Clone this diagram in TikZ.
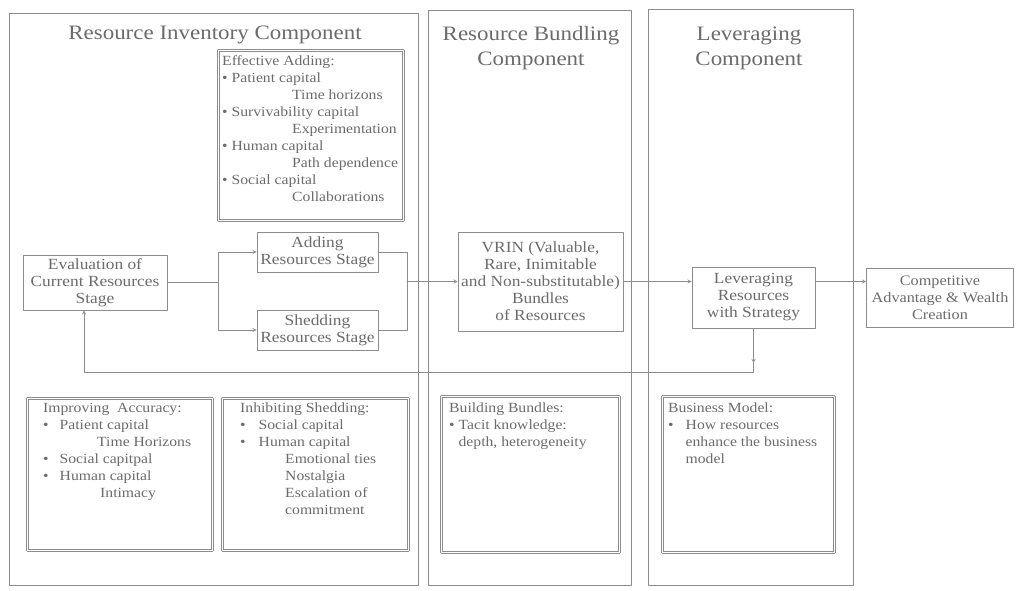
\documentclass[tikz,border=0pt]{standalone}
\usepackage{fontspec}
\setmainfont{Liberation Serif}[FakeStretch=1.12]
\usetikzlibrary{positioning}
\definecolor{ink}{gray}{0.42}
\definecolor{rule}{gray}{0.55}

\begin{document}
\begin{tikzpicture}[x=1pt, y=-1pt, line join=round, line cap=round, >=stealth,
  every node/.style={text=ink},
  frame/.style={draw=rule, line width=0.8pt},
  ttl/.style={font=\fontsize{20.5}{25}\selectfont, align=center},
  stage/.style={draw=rule, line width=0.8pt, font=\fontsize{15.5}{17}\selectfont, align=center, inner sep=1pt},
  dbox/.style={draw=rule, double=white, double distance=1.6pt, line width=0.6pt, inner sep=0pt, anchor=north west},
  list/.style={font=\fontsize{14}{17}\selectfont, align=left, anchor=north west, inner sep=0pt},
  link/.style={draw=rule, line width=0.8pt}]
\useasboundingbox (0,0) rectangle (1017,590);

% three columns
\draw[frame] (9,13) rectangle (418,585);
\draw[frame] (428,10) rectangle (631,585);
\draw[frame] (648,9) rectangle (853,585);
\node[ttl] (invt) at (215,35) {Resource Inventory Component};
\node[ttl] (bunt) at (531,48) {Resource Bundling\\Component};
\node[ttl] (levt) at (749,48) {Leveraging\\Component};

% stages
\node[stage, minimum width=144pt, minimum height=55pt] (eval) at (95,282.5) {Evaluation of\\Current Resources\\Stage};
\node[stage, minimum width=121pt, minimum height=40pt] (addst) at (317.5,252) {Adding\\Resources Stage};
\node[stage, minimum width=121pt, minimum height=40pt] (shed) at (317.5,330) {Shedding\\Resources Stage};
\node[stage, minimum width=165pt, minimum height=99pt] (vrin) at (540.5,281.5) {VRIN (Valuable,\\Rare, Inimitable\\and Non-substitutable)\\Bundles\\of Resources};
\node[stage, minimum width=123pt, minimum height=61pt] (levst) at (753.5,297.5) {Leveraging\\Resources\\with Strategy};
\node[stage, font=\fontsize{14.5}{17}\selectfont, minimum width=147pt, minimum height=59pt] (comp) at (940,297.5) {Competitive\\Advantage \& Wealth\\Creation};

% double boxes
\node[dbox, minimum width=185pt, minimum height=170pt] (effadd) at (218,50) {};
\node[list] (effaddtxt) at ([shift={(4,5)}]effadd.north west) {Effective Adding:\\
\textbullet\ Patient capital\\
\hspace*{70pt}Time horizons\\
\textbullet\ Survivability capital\\
\hspace*{70pt}Experimentation\\
\textbullet\ Human capital\\
\hspace*{70pt}Path dependence\\
\textbullet\ Social capital\\
\hspace*{70pt}Collaborations};

\node[dbox, minimum width=185pt, minimum height=152pt] (impr) at (27,398) {};
\node[list] (imprtxt) at ([shift={(16,5)}]impr.north west) {Improving\ \ Accuracy:\\
\textbullet\hspace*{11pt}Patient capital\\
\hspace*{54pt}Time Horizons\\
\textbullet\hspace*{11pt}Social capitpal\\
\textbullet\hspace*{11pt}Human capital\\
\hspace*{57pt}Intimacy};

\node[dbox, minimum width=186pt, minimum height=152pt] (inhib) at (222,398) {};
\node[list] (inhibtxt) at ([shift={(18,5)}]inhib.north west) {Inhibiting Shedding:\\
\textbullet\hspace*{13pt}Social capital\\
\textbullet\hspace*{13pt}Human capital\\
\hspace*{45pt}Emotional ties\\
\hspace*{45pt}Nostalgia\\
\hspace*{45pt}Escalation of\\
\hspace*{45pt}commitment};

\node[dbox, minimum width=178pt, minimum height=156pt] (build) at (441,396) {};
\node[list] (buildtxt) at ([shift={(8,7)}]build.north west) {Building Bundles:\\
\textbullet\ Tacit knowledge:\\
\phantom{\textbullet\ }depth,\ heterogeneity};

\node[dbox, minimum width=172pt, minimum height=156pt] (busi) at (662,396) {};
\node[list] (busitxt) at ([shift={(6,7)}]busi.north west) {Business Model:\\
\textbullet\hspace*{12pt}How resources\\
\phantom{\textbullet}\hspace*{12pt}enhance the business\\
\phantom{\textbullet}\hspace*{12pt}model};

% connectors
\coordinate (jl) at (218,282.5);
\coordinate (jr) at (407,281.5);
\draw[link] (eval.east) -- (jl);
\draw[link, ->] (jl) |- (addst.west);
\draw[link, ->] (jl) |- (shed.west);
\draw[link] (addst.east) -| (jr);
\draw[link] (shed.east) -| (jr);
\draw[link, ->] (jr) -- (jr -| vrin.west);
\draw[link, ->] (vrin.east) -- (vrin.east -| levst.west);
\draw[link, ->] (levst.east |- vrin.east) -- (comp.west |- vrin.east);
% feedback loop
\coordinate (fbm) at (753.5,363);
\coordinate (fbr) at (753.5,372);
\coordinate (fbl) at (84,372);
\draw[link, ->] (levst.south) -- (fbm);
\draw[link, ->] (fbm) -- (fbr) -- (fbl) -- (fbl |- eval.south);
\end{tikzpicture}
\end{document}
